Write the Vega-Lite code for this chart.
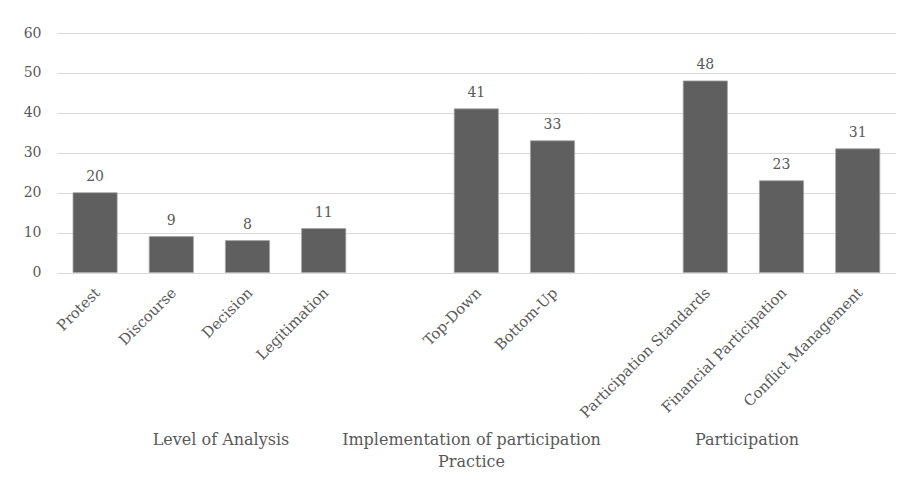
{
  "$schema": "https://vega.github.io/schema/vega-lite/v6.json",
  "padding": {"left": 23, "top": 26, "right": 6, "bottom": 5},
  "bounds": "flush",
  "spacing": 0,
  "background": "white",
  "config": {
    "view": {"stroke": null},
    "font": "DejaVu Serif",
    "axis": {
      "labelFont": "DejaVu Serif",
      "labelFontSize": 14,
      "labelColor": "#595959",
      "titleFont": "DejaVu Serif",
      "titleFontSize": 16,
      "titleColor": "#595959",
      "titleFontWeight": "normal",
      "gridColor": "#d9d9d9",
      "gridWidth": 1,
      "ticks": false,
      "domain": false
    },
    "axisX": {
      "labelFontSize": 14.7,
      "labelAngle": -45,
      "labelAlign": "right",
      "labelBaseline": "middle",
      "labelPadding": 18,
      "labelOffset": 3,
      "titleY": 172,
      "titleBaseline": "alphabetic",
      "titleAlign": "center",
      "titleLineHeight": 22
    },
    "bar": {"fill": "#5f5f5f", "stroke": "#a6a6a6", "strokeWidth": 0.8},
    "text": {"font": "DejaVu Serif", "fontSize": 14, "fill": "#595959", "baseline": "alphabetic", "dy": -12}
  },
  "datasets": {
    "counts": [
      {"group": "Level of Analysis", "category": "Protest", "count": 20},
      {"group": "Level of Analysis", "category": "Discourse", "count": 9},
      {"group": "Level of Analysis", "category": "Decision", "count": 8},
      {"group": "Level of Analysis", "category": "Legitimation", "count": 11},
      {"group": "Implementation of participation Practice", "category": "Top-Down", "count": 41},
      {"group": "Implementation of participation Practice", "category": "Bottom-Up", "count": 33},
      {"group": "Participation", "category": "Participation Standards", "count": 48},
      {"group": "Participation", "category": "Financial Participation", "count": 23},
      {"group": "Participation", "category": "Conflict Management", "count": 31}
    ]
  },
  "hconcat": [
    {
      "width": 304.8,
      "height": 239.5,
      "data": {"name": "counts"},
      "transform": [{"filter": "datum.group == 'Level of Analysis'"}],
      "encoding": {
        "x": {
          "field": "category",
          "type": "nominal",
          "sort": null,
          "scale": {"domain": ["Protest", "Discourse", "Decision", "Legitimation"], "paddingInner": 0.42, "paddingOuter": 0.21},
          "axis": {"title": "Level of Analysis", "titleX": 163.5}
        },
        "y": {
          "field": "count",
          "type": "quantitative",
          "scale": {"domain": [0, 60]},
          "axis": {"title": null, "values": [0, 10, 20, 30, 40, 50, 60], "labelPadding": 16}
        }
      },
      "layer": [
        {"mark": {"type": "bar"}},
        {"mark": {"type": "text"}, "encoding": {"text": {"field": "count", "type": "quantitative"}}}
      ]
    },
    {
      "width": 228.6,
      "height": 239.5,
      "data": {"name": "counts"},
      "transform": [{"filter": "datum.group == 'Implementation of participation Practice'"}],
      "encoding": {
        "x": {
          "field": "category",
          "type": "nominal",
          "sort": null,
          "scale": {"domain": ["(gap)", "Top-Down", "Bottom-Up"], "paddingInner": 0.42, "paddingOuter": 0.21},
          "axis": {
            "title": ["Implementation of participation", "Practice"],
            "titleX": 109,
            "labelExpr": "datum.value == '(gap)' ? '' : datum.label"
          }
        },
        "y": {
          "field": "count",
          "type": "quantitative",
          "scale": {"domain": [0, 60]},
          "axis": {"title": null, "values": [0, 10, 20, 30, 40, 50, 60], "labels": false}
        }
      },
      "layer": [
        {"mark": {"type": "bar"}},
        {"mark": {"type": "text"}, "encoding": {"text": {"field": "count", "type": "quantitative"}}}
      ]
    },
    {
      "width": 304.8,
      "height": 239.5,
      "data": {"name": "counts"},
      "transform": [{"filter": "datum.group == 'Participation'"}],
      "encoding": {
        "x": {
          "field": "category",
          "type": "nominal",
          "sort": null,
          "scale": {"domain": ["(gap)", "Participation Standards", "Financial Participation", "Conflict Management"], "paddingInner": 0.42, "paddingOuter": 0.21},
          "axis": {
            "title": "Participation",
            "titleX": 155.6,
            "labelExpr": "datum.value == '(gap)' ? '' : datum.label"
          }
        },
        "y": {
          "field": "count",
          "type": "quantitative",
          "scale": {"domain": [0, 60]},
          "axis": {"title": null, "values": [0, 10, 20, 30, 40, 50, 60], "labels": false}
        }
      },
      "layer": [
        {"mark": {"type": "bar"}},
        {"mark": {"type": "text"}, "encoding": {"text": {"field": "count", "type": "quantitative"}}}
      ]
    }
  ]
}
